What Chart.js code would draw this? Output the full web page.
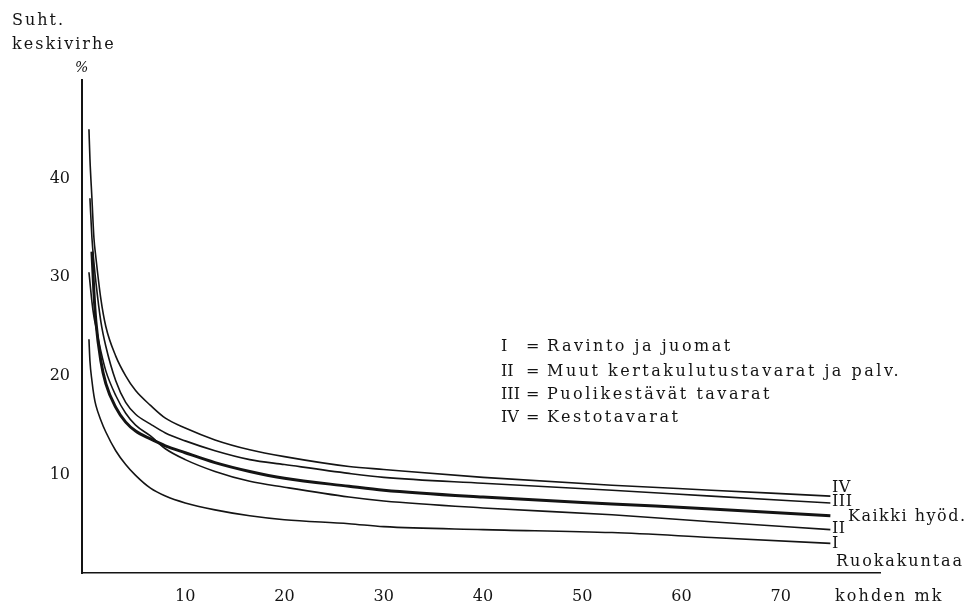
<!DOCTYPE html>
<html>
<head>
<meta charset="utf-8">
<script src="https://cdn.jsdelivr.net/npm/chart.js@4.4.1/dist/chart.umd.min.js"></script>
<style>
    html, body { margin: 0; padding: 0; background: #fff; }
    #wrap { width: 976px; height: 606px; }
</style>
</head>
<body>
<div id="wrap"><canvas id="chart" width="976" height="606"></canvas></div>
<script>
// mk per household (x) and relative standard error % (y)
const mk = [0.3, 0.4, 0.6, 0.8, 1, 1.5, 2, 3, 4, 5, 6.5, 8, 10, 13, 16.5, 20, 26.5, 30, 40, 53, 63, 75];

const kestotavarat   = [45, 42, 38, 34, 32, 27.8, 25, 22, 20, 18.5, 17, 15.7, 14.7, 13.5, 12.5, 11.8, 10.8, 10.5, 9.7, 8.9, 8.4, 7.8];            // IV
const puolikestavat  = [null, 38, 34, 31.5, 29.5, 25.5, 23, 19.5, 17.3, 16.1, 15.1, 14.2, 13.4, 12.4, 11.5, 11, 10.1, 9.7, 9.1, 8.4, 7.8, 7.1]; // III
const kaikki         = [null, null, 32.6, 28.5, 25.5, 21.5, 19.2, 16.8, 15.3, 14.4, 13.6, 12.9, 12.2, 11.2, 10.3, 9.6, 8.8, 8.4, 7.7, 7, 6.5, 5.8];
const muutKerta      = [30.5, 29.5, 27.5, 26, 25, 22.5, 20.5, 18, 16.2, 15, 13.9, 12.6, 11.5, 10.3, 9.3, 8.7, 7.7, 7.3, 6.6, 5.9, 5.2, 4.4];     // II
const ravinto        = [23.7, 21.5, 19.5, 18, 17, 15.5, 14.3, 12.4, 11, 9.9, 8.6, 7.8, 7.1, 6.4, 5.8, 5.4, 5, 4.7, 4.4, 4.1, 3.6, 3];          // I

const xTicks = [10, 20, 30, 40, 50, 60, 70];
const yTicks = [10, 20, 30, 40];

const legendRows = [
    ['I', 'Ravinto ja juomat'],
    ['II', 'Muut kertakulutustavarat ja palv.'],
    ['III', 'Puolikestävät tavarat'],
    ['IV', 'Kestotavarat']
];

const ink = '#141414';
const serif = '"DejaVu Serif", "Liberation Serif", serif';

function toPoints(values) {
    return mk.map((x, i) => ({ x: x, y: values[i] })).filter(p => p.y !== null);
}

function curve(label, values, width) {
    return {
        label: label,
        data: toPoints(values),
        borderColor: ink,
        borderWidth: width,
        pointRadius: 0,
        fill: false,
        cubicInterpolationMode: 'monotone'
    };
}

// texts printed on the paper figure
const paperText = {
    id: 'paperText',
    afterDraw(chart) {
        const ctx = chart.ctx;
        ctx.save();
        ctx.fillStyle = ink;
        ctx.textBaseline = 'middle';
        ctx.font = '16px ' + serif;

        // y-axis title
        ctx.letterSpacing = '2px';
        ctx.fillText('Suht.', 12, 21);
        ctx.fillText('keskivirhe', 12, 45);
        ctx.letterSpacing = '0px';
        ctx.font = 'italic 14px ' + serif;
        ctx.fillText('%', 75, 68);

        // legend
        ctx.font = '16px ' + serif;
        const rowY = [347, 372, 395, 418];
        legendRows.forEach((row, i) => {
            ctx.letterSpacing = '0px';
            ctx.fillText(row[0], 501, rowY[i]);
            ctx.fillText('=', 526, rowY[i]);
            ctx.letterSpacing = '2.5px';
            ctx.fillText(row[1], 547, rowY[i]);
        });

        // curve end labels
        ctx.letterSpacing = '0.5px';
        ctx.fillText('IV', 832, 488);
        ctx.fillText('III', 832, 502);
        ctx.fillText('II', 832, 529);
        ctx.fillText('I', 832, 544);
        ctx.letterSpacing = '1.5px';
        ctx.fillText('Kaikki hyöd.', 848, 517);
        ctx.letterSpacing = '1.9px';
        ctx.fillText('Ruokakuntaa', 836, 562);
        ctx.letterSpacing = '2.1px';
        ctx.fillText('kohden mk', 835, 597);
        ctx.restore();
    }
};

new Chart(document.getElementById('chart'), {
    type: 'line',
    data: {
        datasets: [
            curve('IV', kestotavarat, 1.6),
            curve('III', puolikestavat, 1.6),
            curve('Kaikki hyöd.', kaikki, 3),
            curve('II', muutKerta, 1.6),
            curve('I', ravinto, 1.6)
        ]
    },
    options: {
        responsive: false,
        animation: false,
        layout: { padding: { top: 80, right: 96, bottom: 0, left: 0 } },
        plugins: {
            legend: { display: false },
            tooltip: { enabled: false }
        },
        scales: {
            x: {
                type: 'linear',
                min: -0.4,
                max: 80,
                afterFit: scale => { scale.height = 33; },
                afterBuildTicks: scale => { scale.ticks = xTicks.map(v => ({ value: v })); },
                grid: { display: false, drawTicks: false },
                border: { display: true, color: ink, width: 1.6 },
                ticks: { color: ink, padding: 14, maxRotation: 0, font: { family: serif, size: 16 } }
            },
            y: {
                min: 0,
                max: 50,
                afterFit: scale => { scale.width = 82; },
                afterBuildTicks: scale => { scale.ticks = yTicks.map(v => ({ value: v })); },
                grid: { display: false, drawTicks: false },
                border: { display: true, color: ink, width: 2 },
                ticks: { color: ink, padding: 12, font: { family: serif, size: 16 } }
            }
        }
    },
    plugins: [paperText]
});
</script>
</body>
</html>
